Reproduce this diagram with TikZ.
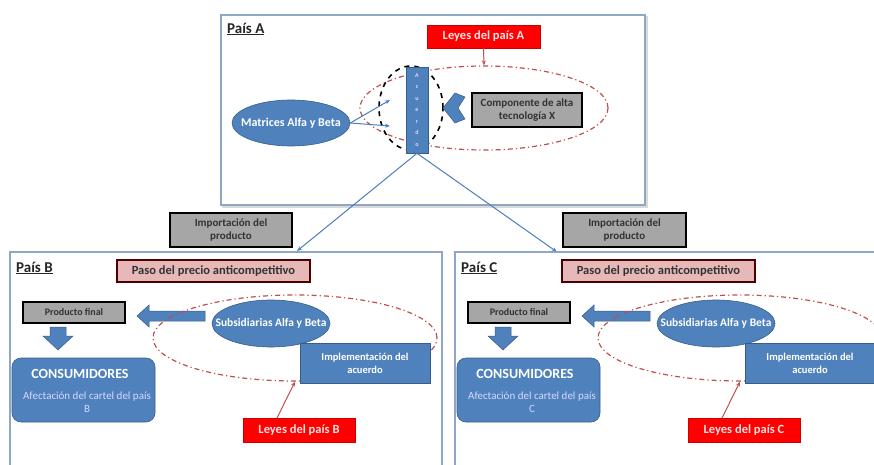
\documentclass[tikz,border=0pt]{standalone}
\usepackage{fontspec}
\setmainfont{Carlito}
\usetikzlibrary{shapes.geometric,arrows.meta}
\definecolor{ofblue}{HTML}{4F81BD}
\definecolor{ofblueD}{HTML}{385D8A}
\definecolor{ofgray}{HTML}{A6A6A6}
\definecolor{ofred}{HTML}{FF0000}
\definecolor{ofredD}{HTML}{C0504D}
\definecolor{ofpink}{HTML}{E6B9B8}
\definecolor{framec}{HTML}{8FA7C4}
\definecolor{linec}{HTML}{4A7EBB}
\tikzset{
  country/.style={draw=framec, line width=1.5pt, fill=white},
  title/.style={anchor=west, inner sep=1pt, font=\fontsize{15}{17}\selectfont\bfseries, text=black!85},
  graybox/.style={draw=black, line width=1.6pt, fill=ofgray, align=center, inner sep=1pt,
    font=\fontsize{11}{13}\selectfont\bfseries, text=black!80},
  redbox/.style={fill=ofred, draw=ofred!80!black, line width=0.5pt, text=white!90!red,
    font=\fontsize{12.5}{14}\selectfont\bfseries, inner sep=1pt},
  pinkbox/.style={fill=ofpink, draw=black!70!red, line width=1.2pt, text=black!80,
    font=\fontsize{12.5}{14}\selectfont\bfseries, inner sep=1pt},
  blueell/.style={ellipse, fill=ofblue, draw=ofblueD, line width=0.6pt, inner sep=0pt},
  elltext/.style={text=white, inner sep=0pt, font=\fontsize{11.5}{13}\selectfont\bfseries},
  bluebox/.style={fill=ofblue, draw=ofblueD, line width=0.6pt, text=white, align=center,
    inner sep=1pt, font=\fontsize{10.5}{13}\selectfont\bfseries},
  lawell/.style={ellipse, draw=ofredD, line width=1.2pt,
    dash pattern=on 5pt off 3pt on 1.2pt off 3pt},
  accell/.style={ellipse, draw=black, line width=1.6pt, dash pattern=on 5pt off 5pt},
  thinarrow/.style={draw=linec, line width=1pt, -{Stealth[length=5pt,width=4pt]}},
  lawarrow/.style={draw=ofredD, line width=1pt, -{Stealth[length=5pt,width=4pt]}},
  block/.style={fill=ofblue, draw=ofblueD, line width=0.5pt},
}
\begin{document}
\begin{tikzpicture}[x=1pt,y=-1pt]
\useasboundingbox (0,0) rectangle (874,465);
\clip (0,0) rectangle (874,465);
\fill[white] (0,0) rectangle (874,465);

% ---------------- Country A ----------------
\draw[black!15, line width=2pt] (223,17) rectangle (647,207);
\draw[country] (221,15) rectangle (645,205);
\node[title] (tA) at (226,29) {\underline{País A}};

\node[lawell, minimum width=248, minimum height=84] (lawA) at (484,108) {};
\node[accell, minimum width=64, minimum height=84] (accE) at (411,108) {};
\node[redbox, minimum width=113, minimum height=23] (leyA) at (483.5,36.5) {Leyes del país A};
\draw[lawarrow] (leyA.south) -- (lawA.north);

\node[fill=ofblue, draw=ofblueD, line width=0.6pt, minimum width=22, minimum height=86,
  inner sep=0pt, text=white!85!blue, align=center, font=\fontsize{6}{11.5}\selectfont\bfseries]
  (acu) at (417,110) {A\\c\\u\\e\\r\\d\\o};

\node[blueell, minimum width=118, minimum height=46] (mat) at (291,123) {};
\node[elltext, font=\fontsize{12}{14}\selectfont\bfseries] (matT) at (291,123) {Matrices Alfa y Beta};
\coordinate (ma1) at (390,100);
\coordinate (ma2) at (390,126);
\draw[thinarrow] (mat.east) -- (ma1);
\draw[thinarrow] (mat.east) -- (ma2);

\node[graybox, minimum width=110, minimum height=34] (comp) at (527,110)
  {Componente de alta\\tecnología X};
% chevron pointing left towards the agreement
\fill[block] (443,108) -- (455,93) -- (465,97) -- (458,108) -- (465,119) -- (455,123) -- cycle;

% importation
\node[graybox, minimum width=122, minimum height=34] (impB) at (231,230)
  {Importación del\\producto};
\node[graybox, minimum width=123, minimum height=34] (impC) at (624.5,230)
  {Importación del\\producto};
\coordinate (entB) at (297,251);
\coordinate (entC) at (557,252);
\draw[thinarrow] (acu.south) -- (entB);
\draw[thinarrow] (acu.south) -- (entC);

% ---------------- Countries B and C ----------------
\foreach \L/\dx in {B/0,C/445}{
\begin{scope}[xshift=\dx pt]
\draw[country] (10,252) rectangle (442,490);
\node[title] (t\L) at (15,268) {\underline{País \L}};
\node[pinkbox, minimum width=193, minimum height=22] (paso\L) at (213.5,271)
  {Paso del precio anticompetitivo};
\node[graybox, font=\fontsize{10}{12}\selectfont\bfseries, minimum width=102, minimum height=21]
  (prod\L) at (74,312.5) {Producto final};
% block arrow left
\fill[block] (205,311) -- (149,311) -- (149,305) -- (137,316) -- (149,327) -- (149,321)
  -- (205,321) -- cycle;
% block arrow down
\fill[block] (50,327) -- (66,327) -- (66,336) -- (73,336) -- (58,350) -- (43,336) -- (50,336) -- cycle;
\node[fill=ofblue, draw=ofblueD, line width=0.6pt, rounded corners=9pt, minimum width=143,
  minimum height=64] (cons\L) at (83.5,390) {};
\node[text=white, inner sep=0pt, font=\fontsize{14}{16}\selectfont\bfseries] (consT\L) at (80,374) {CONSUMIDORES};
\node[text=white!85!blue, align=center, inner sep=0pt, font=\fontsize{11}{13}\selectfont] (consS\L) at (87,402.5)
  {Afectación del cartel del país\\\L};
\node[lawell, minimum width=284, minimum height=86] (law\L) at (295,338) {};
\node[blueell, minimum width=118, minimum height=47] (sub\L) at (271,323.5) {};
\node[elltext] (subT\L) at (271,323.5) {Subsidiarias Alfa y Beta};
\node[bluebox, minimum width=130, minimum height=40] (imp\L) at (365,363)
  {Implementación del\\acuerdo};
\node[redbox, minimum width=112, minimum height=24] (ley\L) at (299,430) {Leyes del país \L};
\coordinate (la\L) at (277,418);
\draw[lawarrow] (la\L) -- (law\L.south);
\end{scope}
}
\end{tikzpicture}
\end{document}
